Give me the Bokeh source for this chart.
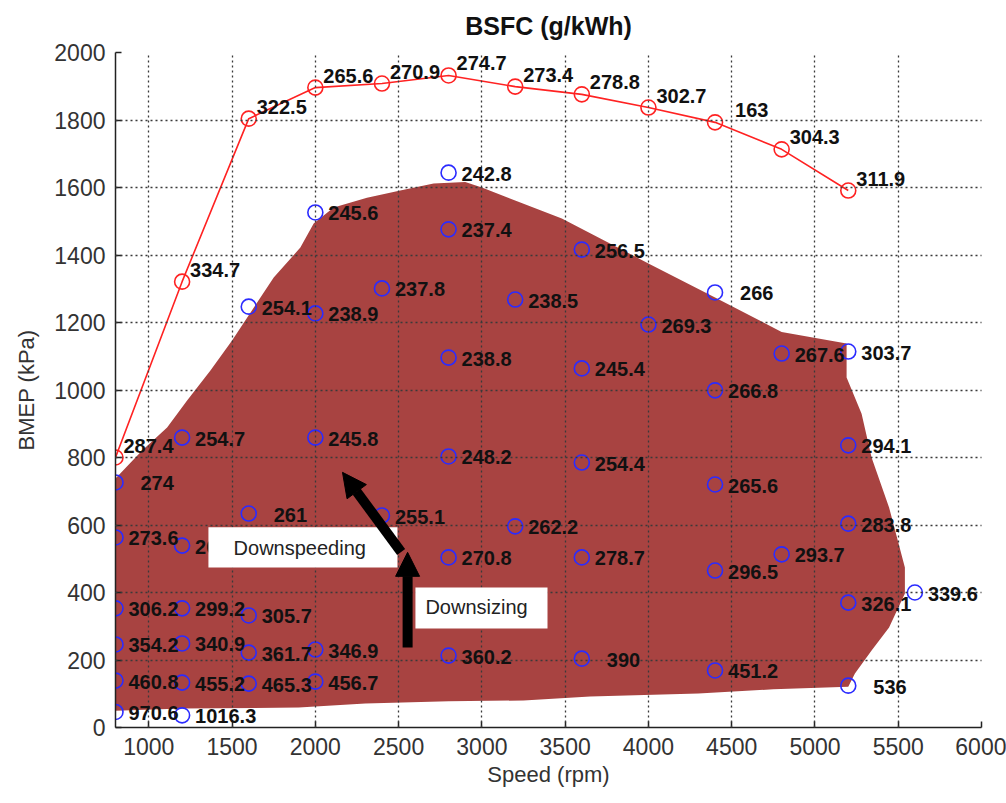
from bokeh.plotting import figure
from bokeh.models import (Range1d, ColumnDataSource, LabelSet, Label, BoxAnnotation,
                          Arrow, NormalHead)
from bokeh.core.properties import value
from bokeh.embed import file_html
from bokeh.resources import INLINE

# Full-load curve: speed (rpm), BMEP (kPa), BSFC label (g/kWh)
wot_speed = [800, 1200, 1600, 2000, 2400, 2800, 3200, 3600, 4000, 4400, 4800, 5200]
wot_bmep = [800, 1321, 1804, 1896, 1908, 1932, 1899, 1876, 1837, 1793, 1713, 1591]
wot_bsfc = ["287.4", "334.7", "322.5", "265.6", "270.9", "274.7", "273.4", "278.8",
            "302.7", "163", "304.3", "311.9"]

# Part-load measurement points
pt_speed = [800, 800, 800, 800, 800, 800,
            1200, 1200, 1200, 1200, 1200, 1200,
            1600, 1600, 1600, 1600, 1600,
            2000, 2000, 2000, 2000, 2000,
            2400, 2400,
            2800, 2800, 2800, 2800, 2800, 2800,
            3200, 3200,
            3600, 3600, 3600, 3600, 3600,
            4000,
            4400, 4400, 4400, 4400, 4400,
            4800, 4800,
            5200, 5200, 5200, 5200, 5200,
            5600]
pt_bmep = [726, 563, 353, 246, 139, 46,
           859, 539, 353, 249, 133, 36,
           1247, 634, 332, 222, 130,
           1526, 1227, 859, 231, 136,
           1301, 628,
           1644, 1476, 1096, 803, 504, 213,
           1268, 596,
           1416, 1064, 785, 504, 204,
           1194,
           1289, 999, 720, 465, 169,
           1108, 513,
           1114, 836, 604, 370, 124,
           400]
pt_bsfc = ["274", "273.6", "306.2", "354.2", "460.8", "970.6",
           "254.7", "268.1", "299.2", "340.9", "455.2", "1016.3",
           "254.1", "261", "305.7", "361.7", "465.3",
           "245.6", "238.9", "245.8", "346.9", "456.7",
           "237.8", "255.1",
           "242.8", "237.4", "238.8", "248.2", "270.8", "360.2",
           "238.5", "262.2",
           "256.5", "245.4", "254.4", "278.7", "390",
           "269.3",
           "266", "266.8", "265.6", "296.5", "451.2",
           "267.6", "293.7",
           "303.7", "294.1", "283.8", "326.1", "536",
           "339.6"]

# Outline of the engine operating region
region_speed = [800, 960, 1110, 1230, 1370, 1500, 1750, 1910, 1990, 2110, 2310, 2510,
                2710, 2900, 3000, 3480, 4000, 4400, 4800, 5190,
                5190, 5280, 5340, 5445, 5540, 5540, 5445, 5340, 5240, 5200,
                4750, 4300, 3650, 3250, 2800, 2300, 1900, 1200, 800]
region_bmep = [738, 821, 889, 969, 1058, 1147, 1333, 1422, 1493, 1541, 1570, 1591,
               1612, 1616, 1600, 1508, 1375, 1274, 1172, 1138,
               1037, 930, 800, 652, 474, 397, 296, 228, 160, 121,
               113, 101, 92, 80, 78, 71, 59, 56, 50]

x_ticks = [1000, 1500, 2000, 2500, 3000, 3500, 4000, 4500, 5000, 5500, 6000]
y_ticks = [0, 200, 400, 600, 800, 1000, 1200, 1400, 1600, 1800, 2000]

FONT = "Liberation Sans"
FILL = "#a84341"
BLUE = "#2b2bff"
RED = "#ff2222"

p = figure(frame_width=866, frame_height=675,
           x_range=Range1d(800, 6000), y_range=Range1d(0, 2000),
           output_backend="svg", toolbar_location=None,
           min_border_left=115, min_border_right=25,
           min_border_top=52, min_border_bottom=76,
           outline_line_color=None, background_fill_color="white",
           border_fill_color="white")

# Title
p.title.text = "BSFC (g/kWh)"
p.title.align = "center"
p.title.vertical_align = "top"
p.title.standoff = 21
p.title.text_font = FONT
p.title.text_font_size = "25px"
p.title.text_font_style = "bold"
p.title.text_color = "#111111"

# Axes
for ax in (p.xaxis[0], p.yaxis[0]):
    ax.major_tick_in = 6
    ax.major_tick_out = 0
    ax.minor_tick_line_color = None
    ax.axis_line_color = "#222222"
    ax.axis_line_width = 1.5
    ax.major_tick_line_color = "#222222"
    ax.major_tick_line_width = 1.5
    ax.major_label_text_font = FONT
    ax.major_label_text_font_size = "23px"
    ax.major_label_text_color = "#333333"
    ax.axis_label_text_font = FONT
    ax.axis_label_text_font_size = "22px"
    ax.axis_label_text_font_style = "normal"
    ax.axis_label_text_color = "#333333"

p.xaxis.ticker = x_ticks
p.yaxis.ticker = y_ticks
p.xaxis.axis_label = "Speed (rpm)"
p.yaxis.axis_label = "BMEP (kPa)"
p.xaxis.major_label_standoff = 10
p.yaxis.major_label_standoff = 10
p.xaxis.axis_label_standoff = 4
p.yaxis.axis_label_standoff = 12

# Dotted grid drawn over the operating region
p.xgrid.ticker = x_ticks
p.ygrid.ticker = y_ticks
for g in (p.xgrid[0], p.ygrid[0]):
    g.grid_line_color = "#3a3a3a"
    g.grid_line_alpha = 1.0
    g.grid_line_dash = "2 3"
    g.grid_line_width = 1.3
    g.level = "guide"

# Operating region
p.patch(region_speed, region_bmep, fill_color=FILL, line_color=None)

# Part-load points
pt_src = ColumnDataSource(dict(
    x=pt_speed, y=pt_bmep, t=pt_bsfc,
    dx=[13 if "." in s else 25 for s in pt_bsfc]))
p.scatter("x", "y", source=pt_src, marker="circle", size=15,
          fill_color=None, line_color=BLUE, line_width=1.6)

# Full-load curve
wot_src = ColumnDataSource(dict(
    x=wot_speed, y=wot_bmep, t=wot_bsfc,
    dx=[8 if "." in s else 20 for s in wot_bsfc]))
p.line("x", "y", source=wot_src, line_color=RED, line_width=1.6)
p.scatter("x", "y", source=wot_src, marker="circle", size=15,
          fill_color=None, line_color=RED, line_width=1.6)

label_style = dict(text_font=value(FONT), text_font_size=value("20px"),
                   text_font_style="bold", text_color="#111111")
p.add_layout(LabelSet(x="x", y="y", text="t", source=pt_src, x_offset="dx",
                      y_offset=-1, text_baseline="middle", **label_style))
p.add_layout(LabelSet(x="x", y="y", text="t", source=wot_src, x_offset="dx",
                      y_offset=12, text_baseline="middle", **label_style))

# Annotation boxes and arrows
p.add_layout(BoxAnnotation(left=1358, right=2493, top=593, bottom=474,
                           fill_color="white", fill_alpha=1.0, line_color=None))
p.add_layout(BoxAnnotation(left=2601, right=3394, top=415, bottom=293,
                           fill_color="white", fill_alpha=1.0, line_color=None))
p.add_layout(Label(x=1509, y=533, text="Downspeeding", text_baseline="middle",
                   text_font=FONT, text_font_size="20px", text_color="#222222"))
p.add_layout(Label(x=2661, y=356, text="Downsizing", text_baseline="middle",
                   text_font=FONT, text_font_size="20px", text_color="#222222"))

p.add_layout(Arrow(end=NormalHead(size=24, fill_color="black", line_color="black"),
                   x_start=2554, y_start=237, x_end=2554, y_end=519,
                   line_width=10, line_color="black"))
p.add_layout(Arrow(end=NormalHead(size=24, fill_color="black", line_color="black"),
                   x_start=2515, y_start=520, x_end=2163, y_end=756,
                   line_width=10, line_color="black"))

open("out.html", "w").write(file_html(p, INLINE))
